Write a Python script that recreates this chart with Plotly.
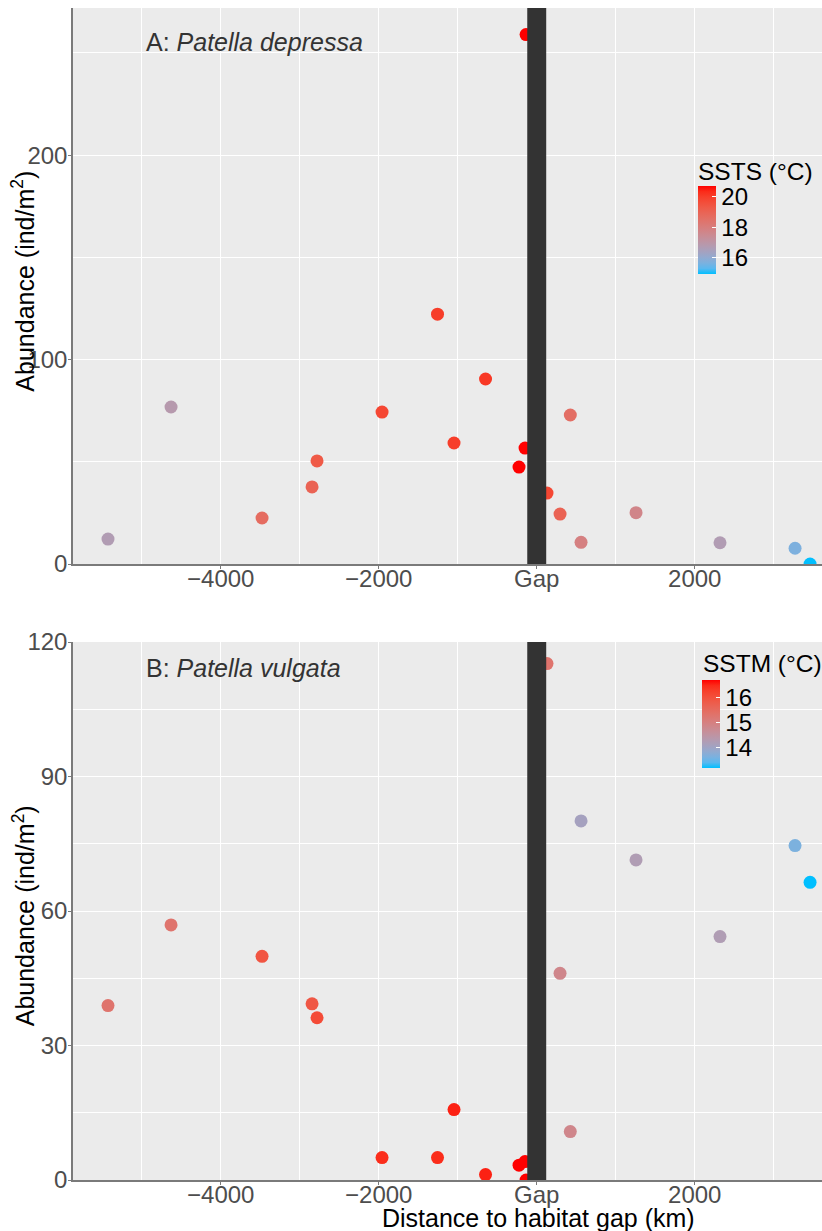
import plotly.graph_objects as go

# Sampling sites: signed distance to the habitat gap (km)
site_km = [-5427, -4629, -3477, -2844, -2781, -1958, -1256, -1047, -648, -224,
           -148, -135, 130, 295, 425, 561, 1257, 2320, 3270, 3460]

# Panel A: Patella depressa abundance and summer SST
depressa_abund = [12.2, 76.8, 22.5, 37.7, 50.4, 74.3, 122.2, 59.2, 90.5, 47.4,
                  56.7, 259.0, 34.7, 24.4, 72.9, 10.6, 25.1, 10.4, 7.7, 0.0]
ssts = [16.7, 16.85, 18.7, 19.0, 19.3, 19.8, 20.0, 20.0, 20.1, 20.7,
        20.7, 20.7, 19.8, 19.0, 18.6, 17.9, 17.7, 16.7, 15.7, 14.95]

# Panel B: Patella vulgata abundance and mean SST
vulgata_abund = [38.9, 56.9, 49.9, 39.3, 36.2, 5.0, 5.0, 15.7, 1.2, 3.3,
                 4.1, 0.0, 115.2, 46.1, 10.8, 80.1, 71.4, 54.3, 74.6, 66.4]
sstm = [15.3, 15.3, 15.95, 15.9, 16.1, 16.48, 16.48, 16.55, 16.55, 16.72,
        16.72, 16.72, 15.3, 14.85, 14.85, 14.1, 14.25, 14.25, 13.65, 13.2]

x_tickvals = [-4000, -2000, 0, 2000]
x_ticktext = ["\u22124000", "\u22122000", "Gap", "2000"]
ssts_ticks = [16, 18, 20]
sstm_ticks = [14, 15, 16]
GAP_HALF_WIDTH = 120


# Lab-space gradient from deepskyblue to red
def _lin(c):
    c = c / 255.0
    return c / 12.92 if c <= 0.04045 else ((c + 0.055) / 1.055) ** 2.4


def _delin(c):
    c = 12.92 * c if c <= 0.0031308 else 1.055 * c ** (1 / 2.4) - 0.055
    return max(0, min(255, round(c * 255)))


def rgb_to_lab(rgb):
    r, g, b = (_lin(v) for v in rgb)
    X = (0.4124 * r + 0.3576 * g + 0.1805 * b) / 0.95047
    Y = (0.2126 * r + 0.7152 * g + 0.0722 * b)
    Z = (0.0193 * r + 0.1192 * g + 0.9505 * b) / 1.08883
    f = lambda t: t ** (1 / 3) if t > 0.008856 else 7.787 * t + 16 / 116
    fx, fy, fz = f(X), f(Y), f(Z)
    return 116 * fy - 16, 500 * (fx - fy), 200 * (fy - fz)


def lab_to_rgb(lab):
    L, a, b = lab
    fy = (L + 16) / 116
    fx = fy + a / 500
    fz = fy - b / 200
    finv = lambda t: t ** 3 if t ** 3 > 0.008856 else (t - 16 / 116) / 7.787
    X, Y, Z = finv(fx) * 0.95047, finv(fy), finv(fz) * 1.08883
    r = 3.2406 * X - 1.5372 * Y - 0.4986 * Z
    g = -0.9689 * X + 1.8758 * Y + 0.0415 * Z
    bl = 0.0557 * X - 0.2040 * Y + 1.0570 * Z
    return _delin(r), _delin(g), _delin(bl)


low = rgb_to_lab((0, 191, 255))
high = rgb_to_lab((255, 0, 0))
n = 16
colorscale = []
for i in range(n + 1):
    t = i / n
    lab = tuple(low[k] + (high[k] - low[k]) * t for k in range(3))
    r, g, b = lab_to_rgb(lab)
    colorscale.append([t, f"rgb({r},{g},{b})"])

FONT = "Liberation Sans, Arial, sans-serif"
GRAY_BG = "#EBEBEB"
TICK_GRAY = "#4D4D4D"
AXIS_LINE = "#7A7A7A"

fig = go.Figure()

fig.add_trace(go.Scatter(
    x=site_km, y=depressa_abund, mode="markers", xaxis="x", yaxis="y",
    marker=dict(size=13, color=ssts, coloraxis="coloraxis", line=dict(width=0)),
    showlegend=False, hoverinfo="x+y",
))
fig.add_trace(go.Scatter(
    x=site_km, y=vulgata_abund, mode="markers", xaxis="x2", yaxis="y2",
    marker=dict(size=13, color=sstm, coloraxis="coloraxis2", line=dict(width=0)),
    showlegend=False, hoverinfo="x+y",
))

# Habitat gap band drawn over the points
for xr, yr in (("x", "y domain"), ("x2", "y2 domain")):
    fig.add_shape(type="rect", xref=xr, yref=yr, x0=-GAP_HALF_WIDTH, x1=GAP_HALF_WIDTH,
                  y0=0, y1=1, fillcolor="#333333", line=dict(width=0), layer="above")

xaxis_common = dict(
    range=[-5870, 3611], tickvals=x_tickvals, ticktext=x_ticktext,
    showgrid=True, gridcolor="white", gridwidth=1.3,
    minor=dict(dtick=1000, tick0=-5000, showgrid=True, gridcolor="white", gridwidth=0.6, ticks=""),
    zeroline=False, showline=True, linecolor=AXIS_LINE, linewidth=1.5,
    ticks="outside", ticklen=3, tickcolor=AXIS_LINE, tickwidth=1.2,
    ticklabelstandoff=-11, automargin=False,
    tickfont=dict(family=FONT, size=24, color=TICK_GRAY),
)
yaxis_common = dict(
    showgrid=True, gridcolor="white", gridwidth=1.3,
    zeroline=False, showline=True, linecolor=AXIS_LINE, linewidth=1.5,
    ticks="outside", ticklen=3, tickcolor=AXIS_LINE, tickwidth=1.2,
    ticklabelstandoff=-4, automargin=False,
    tickfont=dict(family=FONT, size=24, color=TICK_GRAY),
)

colorbar_common = dict(
    thickness=18, lenmode="pixels", len=88, xanchor="left", yanchor="middle",
    outlinewidth=0, ticks="inside", ticklen=4, tickcolor="white", tickwidth=1,
    tickfont=dict(family=FONT, size=24, color="black"), xpad=0, ypad=0,
)

fig.update_layout(
    width=822, height=1231,
    margin=dict(l=73, r=0, t=8, b=51, autoexpand=False),
    paper_bgcolor="white", plot_bgcolor=GRAY_BG,
    font=dict(family=FONT),
    xaxis=dict(xaxis_common, domain=[0, 1], anchor="y"),
    yaxis=dict(yaxis_common, domain=[0.5256, 1.0], range=[0, 272], tickvals=[0, 100, 200],
               minor=dict(tickvals=[50, 150, 250], showgrid=True, gridcolor="white", gridwidth=0.6)),
    xaxis2=dict(xaxis_common, domain=[0, 1], anchor="y2"),
    yaxis2=dict(yaxis_common, domain=[0, 0.4590], range=[0, 120], tickvals=[0, 30, 60, 90, 120],
                minor=dict(tickvals=[15, 45, 75, 105], showgrid=True, gridcolor="white", gridwidth=0.6)),
    coloraxis=dict(cmin=min(ssts), cmax=max(ssts), colorscale=colorscale,
                   colorbar=dict(colorbar_common, x=0.8345, y=0.8106, tickvals=ssts_ticks)),
    coloraxis2=dict(cmin=min(sstm), cmax=max(sstm), colorscale=colorscale,
                    colorbar=dict(colorbar_common, x=0.8398, y=0.3891, tickvals=sstm_ticks)),
    shapes=list(fig.layout.shapes),
)

annotations = [
    dict(text="A: <i>Patella depressa</i>", x=0.0948, y=0.9710, xref="paper", yref="paper",
         xanchor="left", yanchor="middle", showarrow=False,
         font=dict(family=FONT, size=25, color="#333333")),
    dict(text="B: <i>Patella vulgata</i>", x=0.0948, y=0.4369, xref="paper", yref="paper",
         xanchor="left", yanchor="middle", showarrow=False,
         font=dict(family=FONT, size=25, color="#333333")),
    dict(text="SSTS (°C)", x=0.8318, y=0.8601, xref="paper", yref="paper",
         xanchor="left", yanchor="middle", showarrow=False,
         font=dict(family=FONT, size=24.5, color="black")),
    dict(text="SSTM (°C)", x=0.8385, y=0.4411, xref="paper", yref="paper",
         xanchor="left", yanchor="middle", showarrow=False,
         font=dict(family=FONT, size=24.5, color="black")),
    dict(text="Abundance (ind/m<sup>2</sup>)", x=-0.066, y=0.767, xref="paper", yref="paper",
         xanchor="center", yanchor="middle", textangle=-90, showarrow=False,
         font=dict(family=FONT, size=25, color="black")),
    dict(text="Abundance (ind/m<sup>2</sup>)", x=-0.066, y=0.2255, xref="paper", yref="paper",
         xanchor="center", yanchor="middle", textangle=-90, showarrow=False,
         font=dict(family=FONT, size=25, color="black")),
    dict(text="Distance to habitat gap (km)", x=0.622, y=-0.0325, xref="paper", yref="paper",
         xanchor="center", yanchor="middle", showarrow=False,
         font=dict(family=FONT, size=25, color="black")),
]
fig.update_layout(annotations=annotations)

fig.write_html("out.html")
